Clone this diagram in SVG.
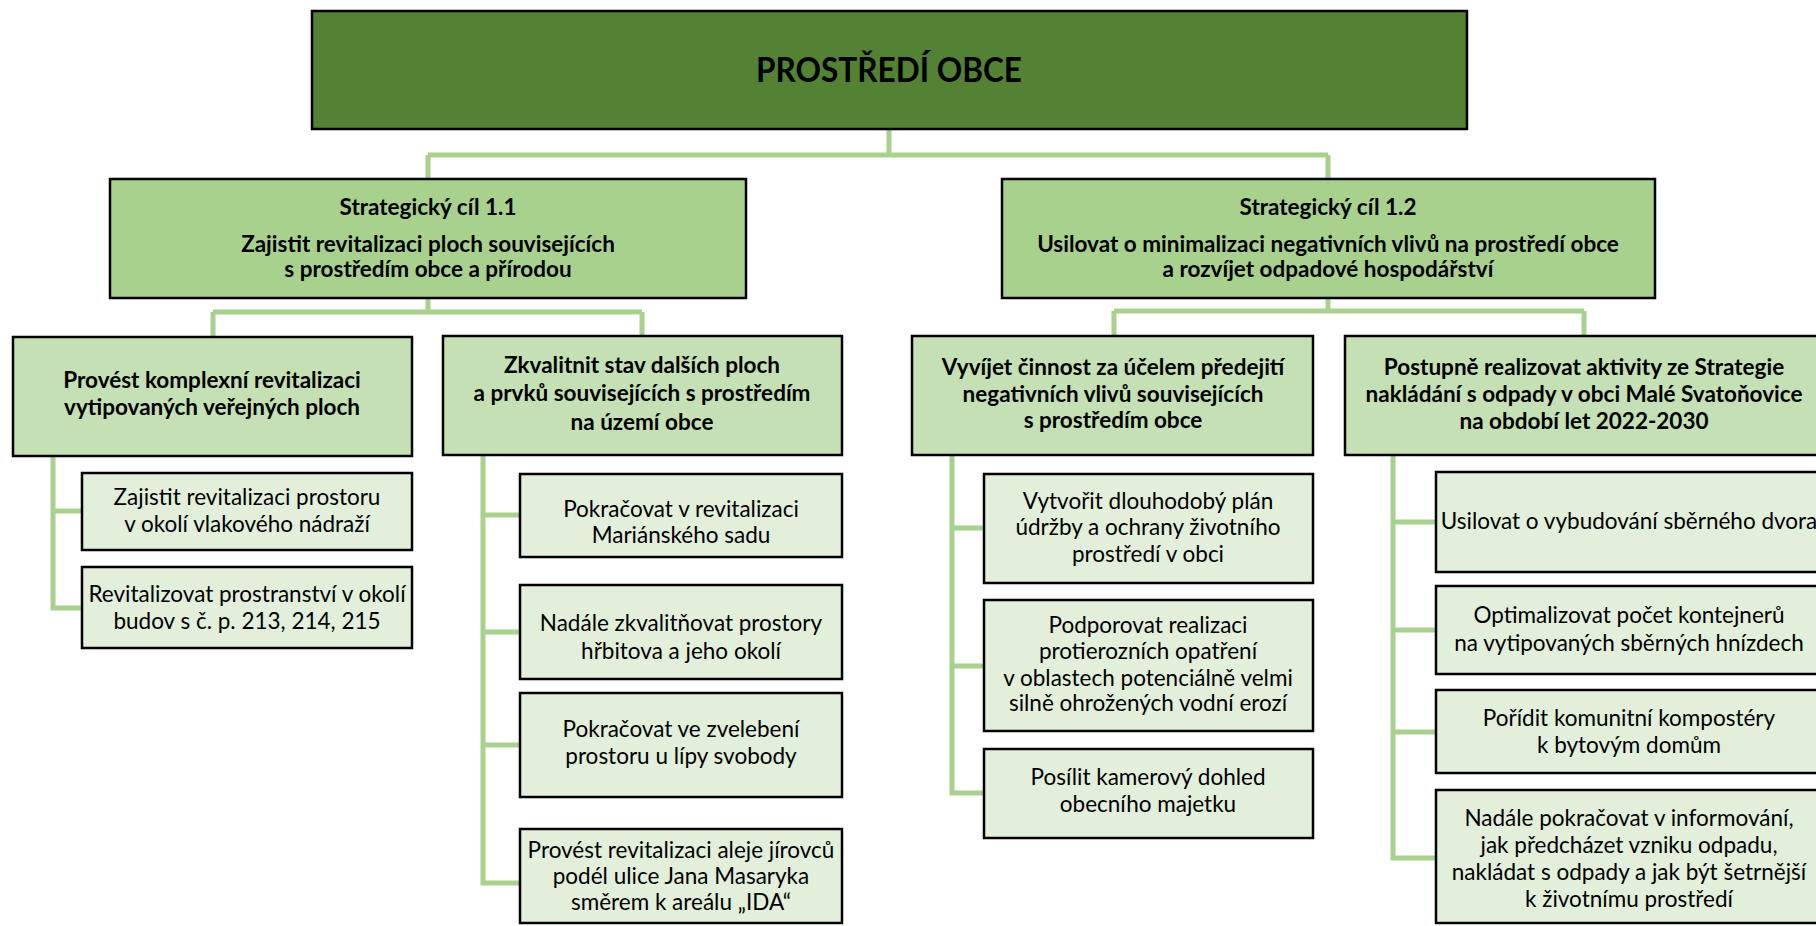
<svg xmlns="http://www.w3.org/2000/svg" width="1816" height="926" viewBox="0 0 1816 926">
<style>
.box{stroke:#000;stroke-width:2.5}
.top{fill:#548235}
.l1{fill:#A9D18E}
.l2{fill:#C5E0B4}
.l3{fill:#E2EFDA}
.conn{fill:none;stroke:#A9D18E;stroke-width:5}
text{font-family:Lato,"Noto Sans",sans-serif;fill:#000;text-anchor:middle}
.b{font-weight:700;font-size:22.5px}
.r{font-size:22.5px}
.t{font-weight:700;font-size:35px}
</style>
<rect width="1816" height="926" fill="#fff"/>
<g id="connectors" class="conn">
<path d="M889,129V155M428,155H1328M428,155V179M1328,155V179"/>
<path d="M428,298V312M213,312H642M213,312V337M642,312V336"/>
<path d="M1328,298V311M1114,311H1584M1114,311V336M1584,311V336"/>
<path d="M53,456V608H82M53,511H82"/>
<path d="M483,455V883H520M483,515H520M483,632H520M483,745H520"/>
<path d="M952,455V793H984M952,528H984M952,666H984"/>
<path d="M1393,455V858H1436M1393,522H1436M1393,630H1436M1393,732H1436"/>
</g>
<g id="root"><rect class="box top" x="312" y="11" width="1155" height="118"/><text class="t" x="889" y="82" textLength="266" lengthAdjust="spacingAndGlyphs">PROSTŘEDÍ OBCE</text></g>
<g id="sc11"><rect class="box l1" x="110" y="179" width="636" height="119"/>
<text class="b" x="428" y="215">Strategický cíl 1.1</text>
<text class="b" x="428" y="252">Zajistit revitalizaci ploch souvisejících</text>
<text class="b" x="428" y="277">s prostředím obce a přírodou</text></g>
<g id="sc12"><rect class="box l1" x="1002" y="179" width="653" height="119"/>
<text class="b" x="1328" y="215">Strategický cíl 1.2</text>
<text class="b" x="1328" y="252">Usilovat o minimalizaci negativních vlivů na prostředí obce</text>
<text class="b" x="1328" y="277">a rozvíjet odpadové hospodářství</text></g>
<g id="a"><rect class="box l2" x="13" y="337" width="399" height="119"/>
<text class="b" x="212" y="388">Provést komplexní revitalizaci</text>
<text class="b" x="212" y="415">vytipovaných veřejných ploch</text></g>
<g id="b"><rect class="box l2" x="443" y="336" width="399" height="119"/>
<text class="b" x="642" y="373">Zkvalitnit stav dalších ploch</text>
<text class="b" x="642" y="401">a prvků souvisejících s prostředím</text>
<text class="b" x="642" y="430">na území obce</text></g>
<g id="c"><rect class="box l2" x="912" y="336" width="401" height="119"/>
<text class="b" x="1113" y="375">Vyvíjet činnost za účelem předejití</text>
<text class="b" x="1113" y="402">negativních vlivů souvisejících</text>
<text class="b" x="1113" y="428">s prostředím obce</text></g>
<g id="d"><rect class="box l2" x="1345" y="336" width="478" height="119"/>
<text class="b" x="1584" y="375">Postupně realizovat aktivity ze Strategie</text>
<text class="b" x="1584" y="402">nakládání s odpady v obci Malé Svatoňovice</text>
<text class="b" x="1584" y="429">na období let 2022-2030</text></g>
<g id="a1"><rect class="box l3" x="82" y="473" width="330" height="77"/>
<text class="r" x="247" y="505">Zajistit revitalizaci prostoru</text>
<text class="r" x="247" y="532">v okolí vlakového nádraží</text></g>
<g id="a2"><rect class="box l3" x="82" y="567" width="330" height="81"/>
<text class="r" x="247" y="602">Revitalizovat prostranství v okolí</text>
<text class="r" x="247" y="629">budov s č. p. 213, 214, 215</text></g>
<g id="b1"><rect class="box l3" x="520" y="474" width="322" height="83"/>
<text class="r" x="681" y="517">Pokračovat v revitalizaci</text>
<text class="r" x="681" y="543">Mariánského sadu</text></g>
<g id="b2"><rect class="box l3" x="520" y="585" width="322" height="94"/>
<text class="r" x="681" y="631">Nadále zkvalitňovat prostory</text>
<text class="r" x="681" y="659">hřbitova a jeho okolí</text></g>
<g id="b3"><rect class="box l3" x="520" y="693" width="322" height="104"/>
<text class="r" x="681" y="737">Pokračovat ve zvelebení</text>
<text class="r" x="681" y="764">prostoru u lípy svobody</text></g>
<g id="b4"><rect class="box l3" x="520" y="829" width="322" height="94"/>
<text class="r" x="681" y="858">Provést revitalizaci aleje jírovců</text>
<text class="r" x="681" y="884">podél ulice Jana Masaryka</text>
<text class="r" x="681" y="910">směrem k areálu „IDA“</text></g>
<g id="c1"><rect class="box l3" x="984" y="474" width="329" height="109"/>
<text class="r" x="1148" y="509">Vytvořit dlouhodobý plán</text>
<text class="r" x="1148" y="535">údržby a ochrany životního</text>
<text class="r" x="1148" y="562">prostředí v obci</text></g>
<g id="c2"><rect class="box l3" x="984" y="600" width="329" height="131"/>
<text class="r" x="1148" y="633">Podporovat realizaci</text>
<text class="r" x="1148" y="659">protierozních opatření</text>
<text class="r" x="1148" y="686">v oblastech potenciálně velmi</text>
<text class="r" x="1148" y="711">silně ohrožených vodní erozí</text></g>
<g id="c3"><rect class="box l3" x="984" y="749" width="329" height="89"/>
<text class="r" x="1148" y="785">Posílit kamerový dohled</text>
<text class="r" x="1148" y="812">obecního majetku</text></g>
<g id="d1"><rect class="box l3" x="1436" y="472" width="386" height="100"/>
<text class="r" x="1629" y="529">Usilovat o vybudování sběrného dvora</text></g>
<g id="d2"><rect class="box l3" x="1436" y="586" width="386" height="88"/>
<text class="r" x="1629" y="623">Optimalizovat počet kontejnerů</text>
<text class="r" x="1629" y="651">na vytipovaných sběrných hnízdech</text></g>
<g id="d3"><rect class="box l3" x="1436" y="690" width="386" height="83"/>
<text class="r" x="1629" y="726">Pořídit komunitní kompostéry</text>
<text class="r" x="1629" y="753">k bytovým domům</text></g>
<g id="d4"><rect class="box l3" x="1436" y="790" width="386" height="133"/>
<text class="r" x="1629" y="826">Nadále pokračovat v informování,</text>
<text class="r" x="1629" y="853">jak předcházet vzniku odpadu,</text>
<text class="r" x="1629" y="880">nakládat s odpady a jak být šetrnější</text>
<text class="r" x="1629" y="907">k životnímu prostředí</text></g>
</svg>
